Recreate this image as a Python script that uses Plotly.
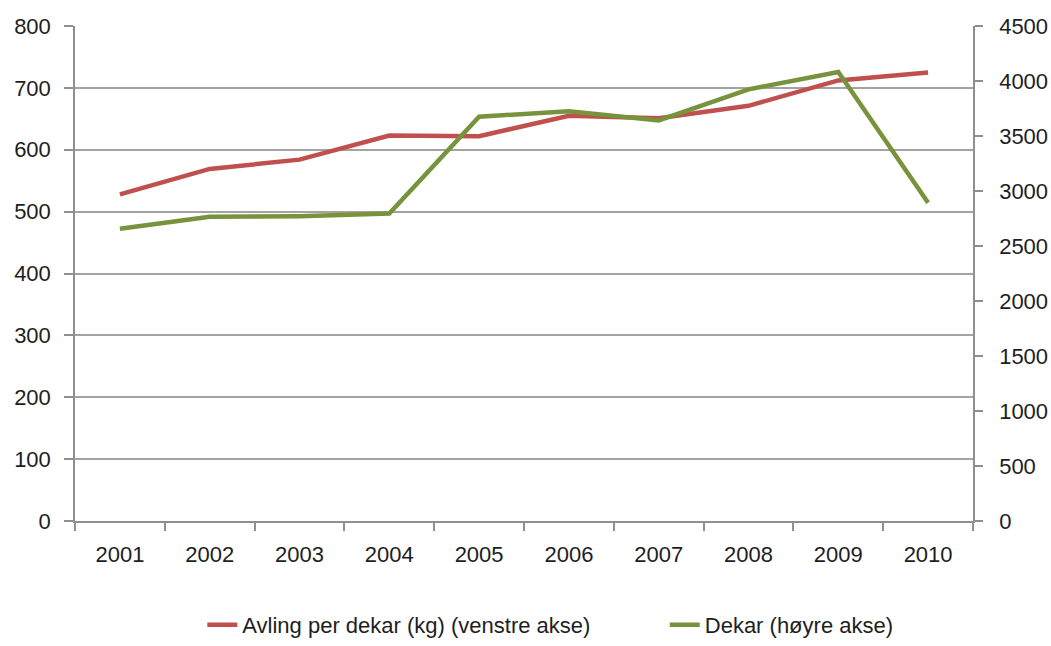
import plotly.graph_objects as go

years = ["2001", "2002", "2003", "2004", "2005", "2006", "2007", "2008", "2009", "2010"]
avling_per_dekar = [528, 569, 584, 623, 622, 655, 651, 671, 712, 725]
dekar = [2656, 2765, 2771, 2795, 3675, 3726, 3642, 3924, 4081, 2893]

left_ticks = [0, 100, 200, 300, 400, 500, 600, 700, 800]
right_ticks = [0, 500, 1000, 1500, 2000, 2500, 3000, 3500, 4000, 4500]

FONT = "Liberation Sans"
GRID = "#a3a3a3"
AXIS = "#8f8f8f"
TEXT = "#1e1e1e"

fig = go.Figure()
fig.add_trace(go.Scatter(
    x=years, y=avling_per_dekar, mode="lines",
    name="Avling per dekar (kg) (venstre akse)",
    line=dict(color="#C0504D", width=4.5),
    yaxis="y", legend="legend",
))
fig.add_trace(go.Scatter(
    x=years, y=dekar, mode="lines",
    name="Dekar (høyre akse)",
    line=dict(color="#77933C", width=4.5),
    yaxis="y2", legend="legend2",
))

legend_style = dict(
    orientation="h", xref="container", xanchor="left",
    yref="container", y=0.0, yanchor="bottom",
    font=dict(family=FONT, size=22, color=TEXT),
    bgcolor="rgba(0,0,0,0)",
)

fig.update_layout(
    width=1051, height=646,
    margin=dict(l=75, r=78, t=26, b=125, autoexpand=False),
    paper_bgcolor="white", plot_bgcolor="white",
    font=dict(family=FONT, size=22, color=TEXT),
    xaxis=dict(
        type="category", tickson="boundaries", ticks="outside",
        ticklen=8, tickcolor=AXIS, tickwidth=1.5, showline=True,
        linecolor=AXIS, linewidth=1.5, showgrid=False, zeroline=False,
        range=[-0.5, 9.5], ticklabelstandoff=13,
    ),
    yaxis=dict(
        range=[0, 800], tickvals=left_ticks, ticks="outside", ticklen=9,
        tickcolor=AXIS, tickwidth=1.5, showline=True, linecolor=AXIS,
        linewidth=1.5, showgrid=True, gridcolor=GRID, gridwidth=1.5,
        zeroline=False, ticklabelstandoff=9,
    ),
    yaxis2=dict(
        range=[0, 4500], tickvals=right_ticks, ticks="outside", ticklen=8,
        tickcolor=AXIS, tickwidth=1.5, showline=True, linecolor=AXIS,
        linewidth=1.5, showgrid=False, zeroline=False, overlaying="y",
        side="right", ticklabelstandoff=12,
    ),
    legend=dict(legend_style, x=0.1925),
    legend2=dict(legend_style, x=0.6325),
    showlegend=True,
)

fig.write_html("out.html")
